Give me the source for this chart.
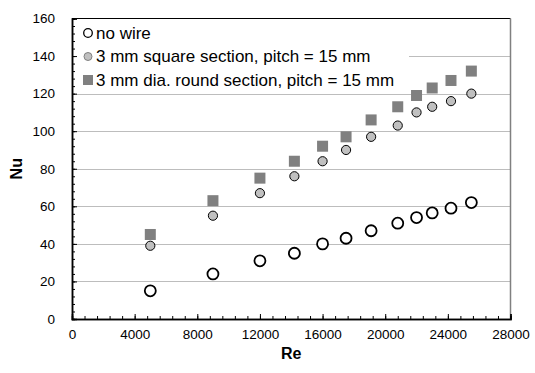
<!DOCTYPE html>
<html>
<head>
<meta charset="utf-8">
<script src="https://cdn.jsdelivr.net/npm/d3@7"></script>
<style>
  body { margin: 0; background: #fff; }
  text { font-family: "Liberation Sans", Arial, sans-serif; fill: #000; }
</style>
</head>
<body>
<script>
const width = 535,
  height = 373;

// Re values shared by all three series
const re = [5000, 9000, 12000, 14200, 16000, 17500, 19100, 20800, 22000, 23000, 24200, 25500];
const nuNoWire = [15, 24, 31, 35, 40, 43, 47, 51, 54, 56.5, 59, 62];
const nuSquare = [39, 55, 67, 76, 84, 90, 97, 103, 110, 113, 116, 120];
const nuRound = [45, 63, 75, 84, 92, 97, 106, 113, 119, 123, 127, 132];

const xTicks = [0, 4000, 8000, 12000, 16000, 20000, 24000, 28000];
const yTicks = [0, 20, 40, 60, 80, 100, 120, 140, 160];
const legendLabels = [
  "no wire",
  "3 mm square section, pitch = 15 mm",
  "3 mm dia. round section, pitch = 15 mm"
];

const margin = { left: 72, right: 24.5, top: 18.5, bottom: 54 };

const x = d3
  .scaleLinear()
  .domain([0, 28000])
  .range([margin.left, width - margin.right]);
const y = d3
  .scaleLinear()
  .domain([0, 160])
  .range([height - margin.bottom, margin.top]);

const svg = d3
  .select("body")
  .append("svg")
  .attr("width", width)
  .attr("height", height);

// gridlines
svg
  .append("g")
  .selectAll("line")
  .data(yTicks.filter(d => d > 0 && d < 160))
  .join("line")
  .attr("x1", x(0))
  .attr("x2", x(28000))
  .attr("y1", d => Math.round(y(d)) + 0.5)
  .attr("y2", d => Math.round(y(d)) + 0.5)
  .attr("stroke", "#bdbdbd");

// frame: top black, right gray
svg
  .append("line")
  .attr("x1", x(0))
  .attr("x2", x(28000))
  .attr("y1", y(160))
  .attr("y2", y(160))
  .attr("stroke", "#000");
svg
  .append("line")
  .attr("x1", x(28000))
  .attr("x2", x(28000))
  .attr("y1", y(160))
  .attr("y2", y(0))
  .attr("stroke", "#808080")
  .attr("stroke-width", 1.5);

// legend box covers the grid
const legend = svg.append("g");
legend
  .append("rect")
  .attr("x", x(0) + 1)
  .attr("y", y(160) + 1)
  .attr("width", 336)
  .attr("height", 70)
  .attr("fill", "#fff");

// axes
const xAxis = svg
  .append("g")
  .attr("transform", `translate(0,${y(0)})`)
  .call(
    d3
      .axisBottom(x)
      .tickValues(d3.range(0, 28001, 800))
      .tickSize(-3)
      .tickFormat("")
  );
xAxis
  .append("g")
  .call(
    d3
      .axisBottom(x)
      .tickValues(xTicks)
      .tickSize(-5)
      .tickPadding(10)
      .tickFormat(d3.format("d"))
  );
xAxis.selectAll("text").attr("font-size", 13.5).attr("font-family", null);

const yAxis = svg
  .append("g")
  .attr("transform", `translate(${x(0)},0)`)
  .call(
    d3
      .axisLeft(y)
      .tickValues(d3.range(0, 161, 4))
      .tickSize(-3)
      .tickFormat("")
  );
yAxis
  .append("g")
  .call(
    d3
      .axisLeft(y)
      .tickValues(yTicks)
      .tickSize(-5)
      .tickPadding(17)
  );
yAxis.selectAll("text").attr("font-size", 13.5).attr("font-family", null);

svg.selectAll(".domain").attr("stroke", "#000").attr("stroke-width", 1.5);
svg.selectAll(".tick line").attr("stroke", "#000");

// axis titles
svg
  .append("text")
  .attr("x", x(14000))
  .attr("y", 359)
  .attr("text-anchor", "middle")
  .attr("font-size", 16)
  .attr("font-weight", "bold")
  .text("Re");
svg
  .append("text")
  .attr("transform", `translate(22,${y(80)}) rotate(-90)`)
  .attr("text-anchor", "middle")
  .attr("font-size", 16)
  .attr("font-weight", "bold")
  .text("Nu");

// data
const plot = svg.append("g");

plot
  .selectAll("rect.round")
  .data(re.map((r, i) => [r, nuRound[i]]))
  .join("rect")
  .attr("class", "round")
  .attr("x", d => x(d[0]) - 5.5)
  .attr("y", d => y(d[1]) - 5.5)
  .attr("width", 11)
  .attr("height", 11)
  .attr("fill", "#808080");

plot
  .selectAll("circle.square")
  .data(re.map((r, i) => [r, nuSquare[i]]))
  .join("circle")
  .attr("class", "square")
  .attr("cx", d => x(d[0]))
  .attr("cy", d => y(d[1]))
  .attr("r", 4.6)
  .attr("fill", "#c0c0c0")
  .attr("stroke", "#000")
  .attr("stroke-width", 1);

plot
  .selectAll("circle.nowire")
  .data(re.map((r, i) => [r, nuNoWire[i]]))
  .join("circle")
  .attr("class", "nowire")
  .attr("cx", d => x(d[0]))
  .attr("cy", d => y(d[1]))
  .attr("r", 5.5)
  .attr("fill", "#fff")
  .attr("stroke", "#000")
  .attr("stroke-width", 1.8);

// legend entries
const rowY = i => 33 + i * 23.5;
legend
  .append("circle")
  .attr("cx", 88)
  .attr("cy", rowY(0))
  .attr("r", 4.3)
  .attr("fill", "#fff")
  .attr("stroke", "#000")
  .attr("stroke-width", 1.3);
legend
  .append("circle")
  .attr("cx", 88)
  .attr("cy", rowY(1))
  .attr("r", 4)
  .attr("fill", "#c0c0c0")
  .attr("stroke", "#808080")
  .attr("stroke-width", 1);
legend
  .append("rect")
  .attr("x", 83)
  .attr("y", rowY(2) - 5)
  .attr("width", 10)
  .attr("height", 10)
  .attr("fill", "#808080");
legend
  .selectAll("text")
  .data(legendLabels)
  .join("text")
  .attr("x", 96)
  .attr("y", (d, i) => rowY(i))
  .attr("dy", "0.35em")
  .attr("font-size", 17)
  .text(d => d);
</script>
</body>
</html>
